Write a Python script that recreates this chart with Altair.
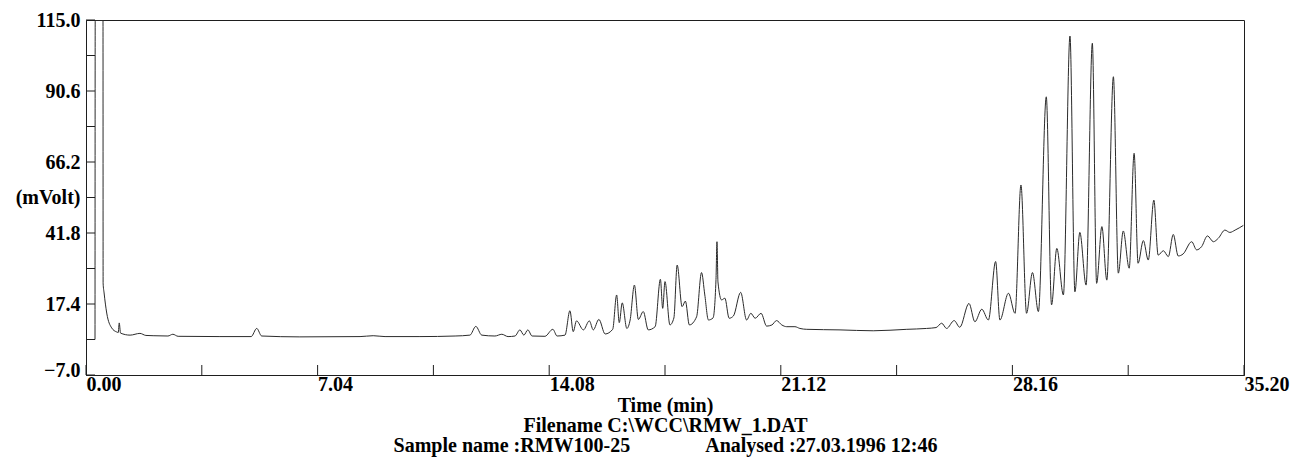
import altair as alt
import pandas as pd

# ---- chromatogram trace (time in min, signal in mV) ----
time_min = [
    0.274, 0.28, 0.517, 0.52, 0.55, 0.63, 0.78, 0.93, 0.98, 1.01, 1.05, 1.34, 1.64, 1.82,
    2.04, 2.49, 2.64, 2.80, 4.07, 5.02, 5.19, 5.34, 6.50, 8.33, 8.73, 9.09, 10.15,
    11.22, 11.67, 11.85, 12.03, 12.43, 12.64, 12.83, 13.04, 13.19, 13.31, 13.43, 13.56,
    13.95, 14.19, 14.32, 14.56, 14.71, 14.81, 14.91, 15.12, 15.30, 15.42, 15.59, 15.78,
    16.01, 16.13, 16.21, 16.30, 16.44, 16.54, 16.67, 16.79, 16.94, 17.09, 17.30, 17.46,
    17.53, 17.60, 17.75, 17.87, 17.97, 18.12, 18.22, 18.34, 18.56, 18.71, 18.81, 18.92,
    19.06, 19.15, 19.18, 19.21, 19.32, 19.42, 19.55, 19.68, 19.90, 20.08, 20.21, 20.34,
    20.52, 20.69, 20.85, 20.99, 21.15, 21.30, 21.55, 21.70, 21.91, 22.92, 23.93, 24.95,
    25.55, 25.84, 26.01, 26.16, 26.39, 26.56, 26.84, 27.02, 27.23, 27.43, 27.65, 27.78,
    28.04, 28.24, 28.42, 28.59, 28.77, 28.95, 29.19, 29.35, 29.51, 29.71, 29.91, 30.06,
    30.21, 30.40, 30.59, 30.72, 30.88, 31.03, 31.23, 31.38, 31.53, 31.71, 31.86, 31.98,
    32.14, 32.29, 32.46, 32.59, 32.75, 32.90, 33.05, 33.20, 33.35, 33.61, 33.76, 33.91,
    34.09, 34.27, 34.42, 34.62, 34.77, 34.93, 35.18,
]
signal_mv = [
    5.2, 115.0, 115.0, 24.6, 21.2, 14.3, 9.2, 7.8, 7.6, 10.9, 7.4, 6.7, 7.3, 6.6,
    6.5, 6.4, 7.0, 6.3, 6.2, 6.2, 9.0, 6.4, 6.1, 6.2, 6.5, 6.2, 6.2,
    6.4, 6.7, 9.7, 6.7, 6.4, 7.0, 6.2, 6.4, 8.5, 6.7, 8.5, 6.4,
    6.3, 8.7, 6.4, 6.7, 15.1, 7.9, 11.6, 8.5, 11.6, 8.5, 12.1, 7.1,
    8.7, 20.5, 11.0, 17.8, 9.0, 11.9, 23.9, 12.1, 14.8, 8.5, 9.6, 25.9,
    15.9, 25.1, 10.2, 12.6, 30.8, 16.5, 18.4, 10.2, 13.0, 28.2, 20.5, 11.9,
    12.6, 25.8, 38.8, 25.0, 18.8, 19.4, 12.5, 13.3, 21.4, 11.9, 14.2, 12.5,
    14.2, 9.8, 10.2, 11.7, 10.2, 9.6, 9.6, 9.0, 8.7, 8.5, 8.2, 8.7,
    9.0, 9.3, 10.8, 9.0, 11.7, 9.4, 17.6, 11.3, 15.6, 11.9, 32.0, 11.9,
    21.1, 14.2, 58.3, 14.2, 28.2, 14.8, 88.6, 17.1, 36.5, 20.5, 109.5, 21.6,
    42.0, 23.9, 107.0, 24.5, 44.0, 25.6, 95.5, 28.0, 42.5, 29.7, 69.2, 31.4,
    39.2, 32.5, 53.1, 34.2, 35.7, 33.7, 41.3, 33.9, 34.6, 38.8, 36.0, 37.1,
    40.8, 38.8, 40.0, 42.8, 42.0, 42.8, 44.4,
]

# ---- axes ----
x_tick_values = [0.0, 3.52, 7.04, 10.56, 14.08, 17.60, 21.12, 24.64, 28.16, 31.68, 35.20]
x_label_values = [0.0, 7.04, 14.08, 21.12, 28.16, 35.20]
y_tick_values = [-7.0, 5.2, 17.4, 29.6, 41.8, 54.0, 66.2, 78.4, 90.6, 102.8, 115.0]
y_label_values = [-7.0, 17.4, 41.8, 54.0, 66.2, 90.6, 115.0]
y_unit_value = 54.0
y_unit_label = "(mVolt)"

NBSP = "\u00a0"
title_lines = [
    "Time (min)",
    "Filename C:\\WCC\\RMW_1.DAT",
    "Sample name :RMW100-25" + NBSP * 15 + "Analysed :27.03.1996 12:46",
]

W, H = 1158, 355
FONT = "Liberation Serif"
FS = 20
INK = "#1e1e1e"

trace = pd.DataFrame({"t": time_min, "v": signal_mv})
xt = pd.DataFrame({"t": x_tick_values})
yt = pd.DataFrame({"v": y_tick_values})

xscale = alt.Scale(domain=[0, 35.2], nice=False, zero=False)
yscale = alt.Scale(domain=[-7, 115], nice=False, zero=False)

xaxis = alt.Axis(
    values=x_label_values, format=".2f", labelAlign="left", ticks=False,
    labelPadding=-1, labelFlush=False, labelOverlap=False, grid=False,
    title=title_lines, titleFont=FONT, titleFontSize=FS, titleFontWeight="bold",
    titleColor="black", titleLineHeight=20, titlePadding=1,
)
yaxis = alt.Axis(
    values=y_label_values, ticks=False, labelPadding=6, grid=False,
    labelOverlap=False, title=None,
    labelExpr=f"datum.value == {y_unit_value} ? '{y_unit_label}' : format(datum.value, '.1f')",
    labelOffset={"condition": {"test": "datum.value < 0", "value": -5}, "value": 0},
)

line = alt.Chart(trace).mark_line(
    color="#2b2b2b", strokeWidth=1, interpolate="monotone", clip=True
).encode(
    x=alt.X("t:Q", scale=xscale, axis=xaxis),
    y=alt.Y("v:Q", scale=yscale, axis=yaxis),
)

xticks = alt.Chart(xt).mark_rule(color=INK, strokeWidth=1).encode(
    x=alt.X("t:Q", scale=xscale, axis=xaxis),
    y=alt.value(H),
    y2=alt.value(H - 10),
)

yticks = alt.Chart(yt).mark_rule(color=INK, strokeWidth=1).encode(
    y=alt.Y("v:Q", scale=yscale, axis=yaxis),
    x=alt.value(0),
    x2=alt.value(9),
)

chart = alt.layer(line, xticks, yticks).properties(
    width=W, height=H,
    autosize=alt.AutoSizeParams(type="none"),
    padding={"left": 86, "top": 20, "right": 53, "bottom": 99},
).configure_view(
    stroke=INK, strokeWidth=1
).configure_axis(
    domainColor=INK, labelFont=FONT, labelFontSize=FS, labelFontWeight="bold",
    labelColor="black",
)

chart.save("out.html", embed_options={"renderer": "svg", "actions": False})
